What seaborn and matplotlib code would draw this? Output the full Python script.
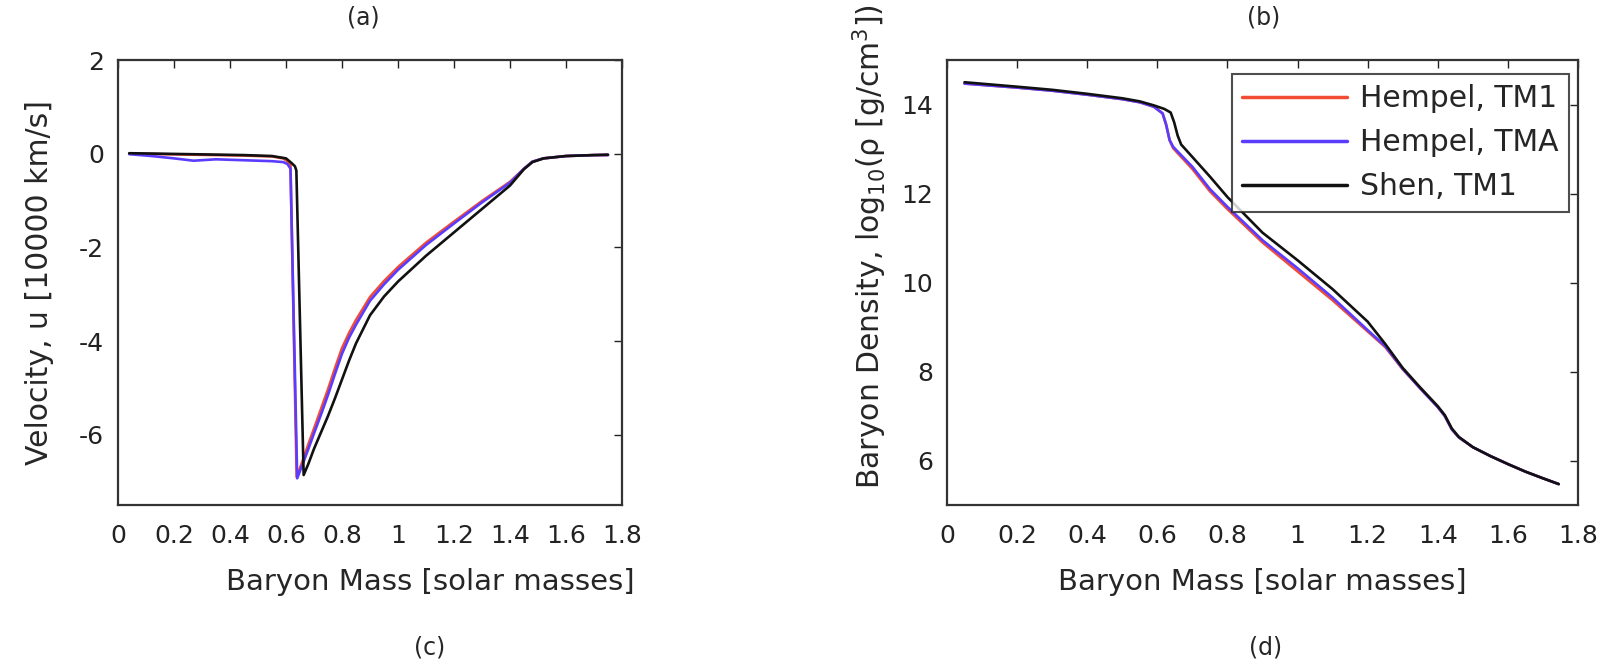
import seaborn as sns
import matplotlib.pyplot as plt

# ---- data ----
# (a) velocity profiles
vel_mass_tm1 = [0.04, 0.15, 0.25, 0.35, 0.45, 0.55, 0.59, 0.605, 0.616, 0.638, 0.66, 0.68, 0.70, 0.725, 0.75,
                0.775, 0.80, 0.825, 0.85, 0.90, 0.95, 1.00, 1.10, 1.20, 1.30, 1.40, 1.45, 1.48, 1.52, 1.60, 1.70, 1.75]
vel_u_tm1 = [0.00, -0.01, -0.02, -0.03, -0.04, -0.06, -0.10, -0.16, -0.24, -6.90, -6.55, -6.20, -5.87, -5.45, -5.03,
             -4.58, -4.15, -3.83, -3.55, -3.06, -2.72, -2.42, -1.90, -1.45, -1.01, -0.60, -0.32, -0.17, -0.10, -0.05,
             -0.03, -0.03]

vel_mass_tma = [0.04, 0.12, 0.20, 0.27, 0.35, 0.45, 0.55, 0.59, 0.605, 0.616, 0.640, 0.66, 0.68, 0.70, 0.725, 0.75,
                0.775, 0.80, 0.825, 0.85, 0.90, 0.95, 1.00, 1.10, 1.20, 1.30, 1.40, 1.45, 1.48, 1.52, 1.60, 1.70, 1.75]
vel_u_tma = [-0.01, -0.05, -0.10, -0.15, -0.12, -0.14, -0.16, -0.18, -0.22, -0.32, -6.93, -6.62, -6.30, -5.97, -5.57,
             -5.15, -4.70, -4.27, -3.93, -3.65, -3.14, -2.79, -2.48, -1.95, -1.49, -1.04, -0.62, -0.32, -0.17, -0.10,
             -0.05, -0.03, -0.03]

vel_mass_shen = [0.04, 0.15, 0.25, 0.35, 0.45, 0.55, 0.60, 0.62, 0.632, 0.637, 0.663, 0.68, 0.70, 0.725, 0.75,
                 0.775, 0.80, 0.825, 0.85, 0.90, 0.95, 1.00, 1.10, 1.20, 1.30, 1.40, 1.45, 1.48, 1.52, 1.60, 1.70, 1.75]
vel_u_shen = [0.01, 0.00, -0.01, -0.02, -0.03, -0.05, -0.10, -0.20, -0.27, -0.36, -6.86, -6.62, -6.30, -5.95, -5.60,
              -5.22, -4.82, -4.42, -4.05, -3.45, -3.05, -2.73, -2.18, -1.68, -1.18, -0.68, -0.33, -0.18, -0.10, -0.05,
              -0.03, -0.02]

# (b) density profiles
den_mass_hempel = [0.05, 0.20, 0.30, 0.40, 0.50, 0.55, 0.59, 0.615, 0.625, 0.635, 0.645, 0.70, 0.75, 0.80,
                   0.90, 1.00, 1.10, 1.20, 1.25, 1.30, 1.35, 1.40, 1.42, 1.44, 1.46, 1.50, 1.55, 1.60, 1.65, 1.70, 1.745]
den_rho_tm1 = [14.47, 14.38, 14.31, 14.22, 14.12, 14.05, 13.95, 13.80, 13.55, 13.20, 13.02, 12.55, 12.05, 11.65,
               10.90, 10.25, 9.60, 8.90, 8.55, 8.05, 7.62, 7.20, 7.00, 6.70, 6.52, 6.30, 6.10, 5.92, 5.75, 5.60, 5.47]
den_rho_tma = [14.47, 14.38, 14.31, 14.22, 14.12, 14.05, 13.95, 13.80, 13.55, 13.20, 13.05, 12.60, 12.10, 11.70,
               10.95, 10.32, 9.66, 8.93, 8.57, 8.06, 7.62, 7.20, 7.00, 6.70, 6.52, 6.30, 6.10, 5.92, 5.75, 5.60, 5.47]

den_mass_shen = [0.05, 0.20, 0.30, 0.40, 0.50, 0.55, 0.59, 0.62, 0.638, 0.648, 0.658, 0.668, 0.70, 0.75, 0.80,
                 0.90, 1.00, 1.10, 1.20, 1.25, 1.30, 1.35, 1.40, 1.42, 1.44, 1.46, 1.50, 1.55, 1.60, 1.65, 1.70, 1.745]
den_rho_shen = [14.50, 14.40, 14.33, 14.24, 14.14, 14.07, 13.98, 13.90, 13.82, 13.60, 13.30, 13.10, 12.82, 12.38, 11.92,
                11.12, 10.50, 9.85, 9.12, 8.62, 8.08, 7.64, 7.22, 7.02, 6.72, 6.53, 6.30, 6.10, 5.92, 5.75, 5.60, 5.47]

labels = ["Hempel, TM1", "Hempel, TMA", "Shen, TM1"]
colors = ["#f24c34", "#5a3cff", "#111111"]
x_ticks = [0, 0.2, 0.4, 0.6, 0.8, 1, 1.2, 1.4, 1.6, 1.8]
x_ticklabels = ["0", "0.2", "0.4", "0.6", "0.8", "1", "1.2", "1.4", "1.6", "1.8"]

sns.set_style('white')
plt.rcParams['font.family'] = ['DejaVu Sans']
plt.rcParams['axes.unicode_minus'] = False

fig = plt.figure(figsize=(16.05, 6.68), dpi=100)
W, H = 1605, 668
ax1 = fig.add_axes([118 / W, 163 / H, 504 / W, 445 / H])
ax2 = fig.add_axes([947 / W, 163 / H, 631 / W, 445 / H])

lw = 1.9
vel = [(vel_mass_tm1, vel_u_tm1), (vel_mass_tma, vel_u_tma), (vel_mass_shen, vel_u_shen)]
den = [(den_mass_hempel, den_rho_tm1), (den_mass_hempel, den_rho_tma), (den_mass_shen, den_rho_shen)]
for (xs, ys), c in zip(vel, colors):
    sns.lineplot(x=xs, y=ys, ax=ax1, color=c, lw=lw, sort=False, estimator=None)
for (xs, ys), c, lab in zip(den, colors, labels):
    sns.lineplot(x=xs, y=ys, ax=ax2, color=c, lw=lw, sort=False, estimator=None, label=lab)

ax1.set_xlim(0, 1.8)
ax1.set_ylim(-7.5, 2)
ax1.set_yticks([-6, -4, -2, 0, 2])
ax2.set_xlim(0, 1.8)
ax2.set_ylim(5, 15)
ax2.set_yticks([6, 8, 10, 12, 14])

for ax in (ax1, ax2):
    ax.set_xticks(x_ticks)
    ax.set_xticklabels(x_ticklabels)
    ax.tick_params(direction='in', length=6, width=1.0, top=True, right=True,
                   labelsize=18, colors='#222222')
    ax.tick_params(axis='x', pad=14)
    ax.tick_params(axis='y', pad=10)
    for sp in ax.spines.values():
        sp.set_color('#333333')
        sp.set_linewidth(1.6)
    ax.set_xlabel('Baryon Mass [solar masses]', fontsize=21, labelpad=14)

# the left x label sits right of the panel centre in the original
ax1.xaxis.set_label_coords(0.62, -0.142)
ax1.set_ylabel('Velocity, u [10000 km/s]', fontsize=21.5, labelpad=18)
ax2.set_ylabel('Baryon Density, log$_{10}$(ρ [g/cm$^3$])', fontsize=21.5, labelpad=8)
ax2.yaxis.set_label_coords(-0.092, 0.58)

leg = ax2.legend(loc='upper right', bbox_to_anchor=(0.986, 0.969), borderaxespad=0,
                 fontsize=21.5, frameon=True, fancybox=False, handlelength=3.5,
                 labelspacing=0.5, borderpad=0.35, handletextpad=0.45)
leg.get_frame().set_edgecolor('#222222')
leg.get_frame().set_linewidth(1.5)
for line in leg.get_lines():
    line.set_linewidth(2.5)

fig.text(363 / W, 1 - 18 / H, '(a)', ha='center', va='center', fontsize=17)
fig.text(1264 / W, 1 - 18 / H, '(b)', ha='center', va='center', fontsize=17)
fig.text(430 / W, 1 - 647 / H, '(c)', ha='center', va='center', fontsize=17)
fig.text(1266 / W, 1 - 647 / H, '(d)', ha='center', va='center', fontsize=17)

fig.savefig('out.png', dpi=100)
